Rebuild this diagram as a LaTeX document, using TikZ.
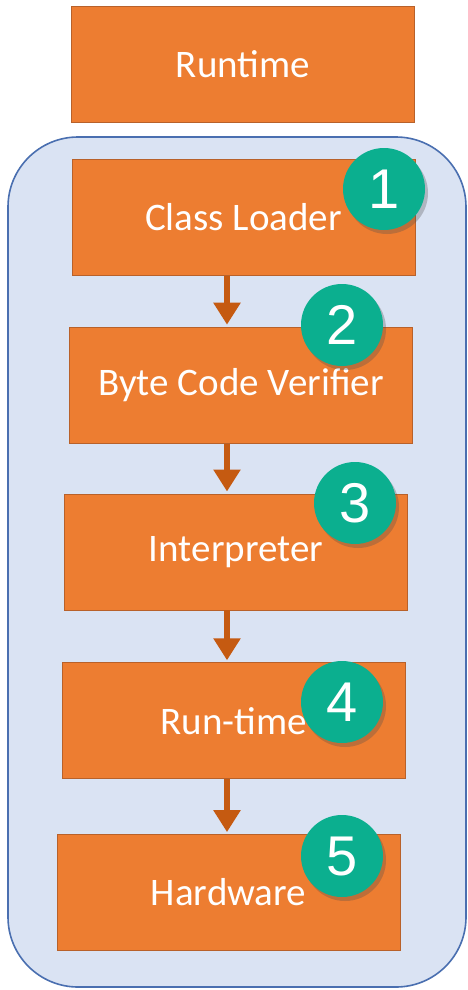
\documentclass[tikz,border=0pt]{standalone}
\usepackage{xcolor}
\usepackage{fontspec}
\setmainfont{Carlito}
\newfontfamily\numfont{Liberation Sans}
\usepackage{tikz}
\usetikzlibrary{shapes, arrows.meta, shadows, positioning}
\definecolor{boxorange}{HTML}{ED7D31}
\definecolor{boxedge}{HTML}{B8612A}
\definecolor{arrowbrown}{HTML}{C55A11}
\definecolor{stepteal}{HTML}{0BAF8F}
\definecolor{jvmfill}{HTML}{DAE3F3}
\definecolor{jvmedge}{HTML}{4A6FB0}
\tikzstyle{block} = [rectangle, draw=boxedge, line width=0.8pt, fill=boxorange,
    text=white, font=\fontsize{39}{44}\selectfont, inner sep=0pt,
    minimum width=343pt, minimum height=116pt]
\tikzstyle{line} = [draw=arrowbrown, line width=6pt,
    -{Triangle[width=26pt, length=22pt, color=arrowbrown]}, shorten >=2pt]
\tikzstyle{badge} = [circle, fill=stepteal, minimum size=82pt, inner sep=0pt,
    text=white, font=\numfont\fontsize{56}{56}\selectfont,
    drop shadow={shadow xshift=3pt, shadow yshift=-4pt, opacity=0.3, fill=black!70}]
\tikzstyle{jvm} = [draw=jvmedge, line width=1.6pt, fill=jvmfill, rounded corners=70pt]

\begin{document}
\begin{tikzpicture}[x=1pt, y=-1pt, node distance = 50pt]
      \useasboundingbox (0,0) rectangle (467,990);
      % JVM container
      \draw [jvm] (8,137) rectangle (466,987);
      % Stages
      \node [block] (runtime) at (243,64.5) {Runtime};
      \node [block, below=36pt of runtime, xshift=0.5pt] (loader) {Class Loader};
      \node [block, below=51pt of loader, xshift=-2.5pt] (verifier) {Byte Code Verifier};
      \node [block, below= of verifier, xshift=-5pt] (interpreter) {Interpreter};
      \node [block, below=52pt of interpreter, xshift=-2pt] (runtimelib) {Run-time};
      \node [block, below=55pt of runtimelib, xshift=-5.5pt] (hardware) {Hardware};
      % Numbered badges
      \node [badge] (one) at (384,189) {1};
      \node [badge] (two) at (342,325) {2};
      \node [badge] (three) at (355,503) {3};
      \node [badge] (four) at (342,702) {4};
      \node [badge] (five) at (342,856) {5};
      % Draw edges
      \coordinate (flow) at (227,0);
      \path [line] (loader.south -| flow) -- (verifier.north -| flow);
      \path [line] (verifier.south -| flow) -- (interpreter.north -| flow);
      \path [line] (interpreter.south -| flow) -- (runtimelib.north -| flow);
      \path [line] (runtimelib.south -| flow) -- (hardware.north -| flow);
  \end{tikzpicture}
\end{document}
